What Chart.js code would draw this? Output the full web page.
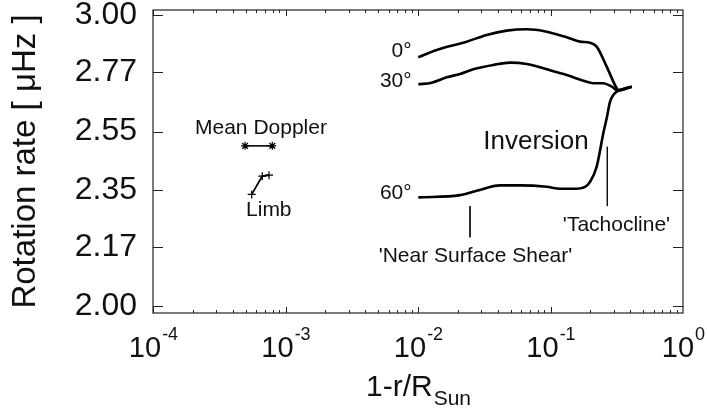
<!DOCTYPE html>
<html>
<head>
<meta charset="utf-8">
<script src="https://cdn.jsdelivr.net/npm/chart.js@4.4.1/dist/chart.umd.min.js"></script>
<style>
  html, body { margin: 0; padding: 0; background: #fff; }
  #wrap { width: 707px; height: 408px; }
</style>
</head>
<body>
<div id="wrap"><canvas id="rot"></canvas></div>
<script>
// depth 1-r/R and rotation rate (muHz)
var depth0 = [0.01005, 0.01384, 0.02331, 0.03301, 0.04670, 0.06613, 0.09361, 0.1325, 0.1670, 0.1987, 0.2232, 0.2655, 0.3160, 0.3249, 0.4101]
var rate0  = [2.8285, 2.8575, 2.8907, 2.9178, 2.9353, 2.9410, 2.9312, 2.9085, 2.8907, 2.8866, 2.8706, 2.7917, 2.7089, 2.7025, 2.7150]

var depth30 = [0.01005, 0.01269, 0.01646, 0.02075, 0.02615, 0.03701, 0.04946, 0.06613, 0.09361, 0.1325, 0.1768, 0.2104, 0.2503, 0.2896, 0.3249, 0.4101]
var rate30  = [2.7240, 2.7301, 2.7507, 2.7634, 2.7816, 2.7983, 2.8073, 2.8022, 2.7816, 2.7596, 2.7377, 2.7278, 2.7278, 2.7150, 2.6999, 2.7150]

var depth60 = [0.01005, 0.02075, 0.02773, 0.04158, 0.05885, 0.09361, 0.1179, 0.1486, 0.1822, 0.1987, 0.2232, 0.2503, 0.2655, 0.2812, 0.2979, 0.3249, 0.4101]
var rate60  = [2.3268, 2.3343, 2.3483, 2.3660, 2.3660, 2.3614, 2.3548, 2.3548, 2.3614, 2.3779, 2.4288, 2.5444, 2.5981, 2.6577, 2.6838, 2.6999, 2.7150]

var dopplerDepth = [4.95e-4, 7.95e-4]
var dopplerRate  = [2.50, 2.50]

var limbDepth = [5.56e-4, 6.68e-4, 7.51e-4]
var limbRate  = [2.3365, 2.3968, 2.4001]

// marker lines for the two shear layers
var tachoDepth = [0.2684, 0.2684]
var tachoRate  = [2.4968, 2.2988]
var nssDepth = [0.02469, 0.02469]
var nssRate  = [2.2988, 2.2010]

var yTickVals = [2.00, 2.17, 2.35, 2.55, 2.77, 3.00]
var xTickExps = [-4, -3, -2, -1, 0]

// text labels, anchored in data coords
var notes = [
  {text: '0°', x: 0.00896, y: 2.8507, align: 'right'},
  {text: '30°', x: 0.00896, y: 2.7339, align: 'right'},
  {text: '60°', x: 0.00896, y: 2.3398, align: 'right'},
  {text: 'Inversion', x: 0.0777, y: 2.5143, align: 'center', big: true},
  {text: "'Tachocline'", x: 0.3148, y: 2.2390, align: 'center'},
  {text: "'Near Surface Shear'", x: 0.02716, y: 2.1424, align: 'center'},
  {text: 'Mean Doppler', x: 6.53e-4, y: 2.5617, align: 'center'},
  {text: 'Limb', x: 7.48e-4, y: 2.2861, align: 'center'}
]

var FONT = "'Liberation Sans', Arial, Helvetica, sans-serif"

function pts(xs, ys) {
  return xs.map(function(x, i) { return {x: x, y: ys[i]} })
}

function curve(label, xs, ys, w) {
  return {
    label: label,
    data: pts(xs, ys),
    borderColor: '#000',
    borderWidth: w,
    pointRadius: 0,
    cubicInterpolationMode: 'monotone',
    fill: false
  }
}

var frame = {
  id: 'frame',
  afterDraw: function(chart) {
    var ctx = chart.ctx, a = chart.chartArea
    var sx = chart.scales.x, sy = chart.scales.y
    ctx.save()
    ctx.strokeStyle = '#222'
    ctx.lineWidth = 1.2
    ctx.strokeRect(a.left, a.top, a.right - a.left, a.bottom - a.top)

    ctx.lineWidth = 1
    ctx.beginPath()
    for (var e = -4; e < 0; e++) {
      for (var m = 1; m <= 9; m++) {
        var px = Math.round(sx.getPixelForValue(m * Math.pow(10, e))) + 0.5
        var len = m == 1 ? 6 : 3
        ctx.moveTo(px, a.bottom); ctx.lineTo(px, a.bottom - len)
        ctx.moveTo(px, a.top); ctx.lineTo(px, a.top + len)
      }
    }
    yTickVals.forEach(function(v) {
      var py = Math.round(sy.getPixelForValue(v)) + 0.5
      ctx.moveTo(a.left, py); ctx.lineTo(a.left + 10, py)
      ctx.moveTo(a.right, py); ctx.lineTo(a.right - 10, py)
    })
    ctx.stroke()

    // x tick labels 10^n
    ctx.fillStyle = '#111'
    ctx.textBaseline = 'alphabetic'
    ctx.textAlign = 'left'
    xTickExps.forEach(function(e) {
      var px = sx.getPixelForValue(Math.pow(10, e))
      ctx.font = '29px ' + FONT
      var w1 = ctx.measureText('10').width
      ctx.font = '18px ' + FONT
      var sup = e < 0 ? '-' + (-e) : '' + e
      var w2 = ctx.measureText(sup).width
      var x0 = px - (w1 + w2) / 2
      ctx.font = '29px ' + FONT
      ctx.fillText('10', x0, a.bottom + 44)
      ctx.font = '18px ' + FONT
      ctx.fillText(sup, x0 + w1 + 1, a.bottom + 27)
    })

    // x title with subscript
    var mid = (a.left + a.right) / 2
    ctx.font = '30px ' + FONT
    var t1 = ctx.measureText('1-r/R').width
    ctx.font = '21px ' + FONT
    var t2 = ctx.measureText('Sun').width
    var tx = mid - (t1 + t2) / 2
    ctx.font = '30px ' + FONT
    ctx.fillText('1-r/R', tx, a.bottom + 83)
    ctx.font = '21px ' + FONT
    ctx.fillText('Sun', tx + t1 + 1, a.bottom + 92)

    // annotations
    ctx.textBaseline = 'middle'
    notes.forEach(function(n) {
      ctx.font = (n.big ? '26px ' : '21px ') + FONT
      ctx.textAlign = n.align
      ctx.fillText(n.text, sx.getPixelForValue(n.x), sy.getPixelForValue(n.y))
    })
    ctx.restore()
  }
}

var ctx = document.getElementById('rot').getContext('2d')
var rotChart = new Chart(ctx, {
  type: 'line',
  data: {
    datasets: [
      curve('0', depth0, rate0, 2.6),
      curve('30', depth30, rate30, 2.6),
      curve('60', depth60, rate60, 2.6),
      {
        label: 'Mean Doppler',
        data: pts(dopplerDepth, dopplerRate),
        borderColor: '#000',
        borderWidth: 1.6,
        pointStyle: 'star',
        pointRadius: 4,
        pointBorderWidth: 1.2,
        pointBorderColor: '#000'
      },
      {
        label: 'Limb',
        data: pts(limbDepth, limbRate),
        borderColor: '#000',
        borderWidth: 1.8,
        pointStyle: 'cross',
        pointRadius: 4,
        pointBorderWidth: 1.2,
        pointBorderColor: '#000'
      },
      {label: 'tacho', data: pts(tachoDepth, tachoRate), borderColor: '#111', borderWidth: 1, pointRadius: 0},
      {label: 'nss', data: pts(nssDepth, nssRate), borderColor: '#111', borderWidth: 1, pointRadius: 0}
    ]
  },
  options: {
    responsive: true,
    maintainAspectRatio: false,
    animation: false,
    layout: { padding: { top: 10, right: 24, bottom: 0, left: 0 } },
    plugins: { legend: { display: false }, tooltip: { enabled: false } },
    scales: {
      x: {
        type: 'logarithmic',
        min: 1e-4,
        max: 1,
        grid: { display: false, drawTicks: false },
        border: { display: false },
        ticks: { display: false },
        afterFit: function(s) { s.height = 95; s.paddingLeft = 0; s.paddingRight = 0 }
      },
      y: {
        type: 'logarithmic',
        min: 1.9807,
        max: 3.021,
        grid: { display: false, drawTicks: false },
        border: { display: false },
        afterBuildTicks: function(s) {
          s.ticks = yTickVals.map(function(v) { return {value: v} })
        },
        ticks: {
          autoSkip: false,
          padding: 16,
          color: '#111',
          font: { family: FONT, size: 32 },
          callback: function(v) { return Number(v).toFixed(2) }
        },
        title: {
          display: true,
          text: 'Rotation rate [ μHz ]',
          color: '#111',
          font: { family: FONT, size: 33 },
          padding: { top: 6, bottom: 0 }
        },
        afterFit: function(s) { s.width = 153; s.paddingTop = 0; s.paddingBottom = 0 }
      }
    }
  },
  plugins: [frame]
});
</script>
</body>
</html>
